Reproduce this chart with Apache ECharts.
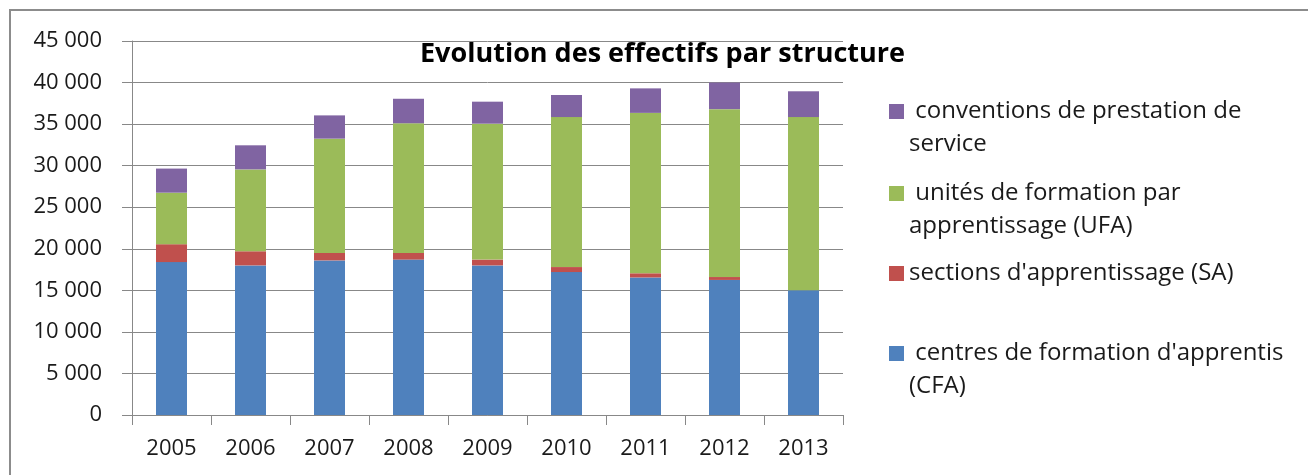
<!DOCTYPE html>
<html>
<head>
<meta charset="utf-8">
<script src="https://cdn.jsdelivr.net/npm/echarts@6/dist/echarts.min.js"></script>
<style>
  html, body { margin: 0; padding: 0; background: #fff; }
  #chart { width: 1308px; height: 475px; }
</style>
</head>
<body>
<div id="chart"></div>
<script>
// années
const years = ['2005', '2006', '2007', '2008', '2009', '2010', '2011', '2012', '2013']

// effectifs par structure
const cfa = [18400, 18000, 18600, 18700, 18000, 17200, 16550, 16250, 15000]
const sa = [2150, 1700, 900, 800, 700, 600, 500, 350, 0]
const ufa = [6200, 9850, 13750, 15600, 16350, 18050, 19300, 20200, 20850]
const cps = [2900, 2900, 2800, 2950, 2650, 2650, 2950, 3200, 3100]

// libellés de la légende, découpés en lignes
const nameCfa = "centres de formation d'apprentis (CFA)"
const nameSa = "sections d'apprentissage (SA)"
const nameUfa = 'unités de formation par apprentissage (UFA)'
const nameCps = 'conventions de prestation de service'
const legendLines = {
  [nameCps]: [' conventions de prestation de', 'service'],
  [nameUfa]: [' unités de formation par', 'apprentissage (UFA)'],
  [nameSa]: ["sections d'apprentissage (SA)"],
  [nameCfa]: [" centres de formation d'apprentis", '(CFA)'],
}

const font = '"Open Sans", Lato, sans-serif'
const axisColor = '#888888'
const textColor = '#1a1a1a'

const fmt = (v) => String(v).replace(/\B(?=(\d{3})+(?!\d))/g, ' ')

const chart = echarts.init(document.getElementById('chart'), null, { renderer: 'canvas' })

// une légende par entrée ; une ligne vide en tête pour caler le carré sur la 1re ligne
const makeLegend = (name, top) => {
  const lines = legendLines[name]
  return {
    data: [{ name, icon: 'rect' }],
    left: 889,
    top,
    padding: 0,
    itemWidth: 15,
    itemHeight: 15,
    selectedMode: false,
    formatter: () => (lines.length > 1 ? [' '].concat(lines).join('\n') : lines[0]),
    textStyle: {
      fontFamily: font,
      fontSize: 24,
      color: textColor,
      lineHeight: 33,
    },
  }
}

const barSeries = (name, data, color) => ({
  name,
  type: 'bar',
  stack: 'total',
  data,
  barWidth: 31,
  itemStyle: { color },
  emphasis: { disabled: true },
})

chart.setOption({
  animation: false,
  title: {
    text: 'Evolution des effectifs par structure',
    left: 415,
    top: 36,
    textStyle: { fontFamily: font, fontSize: 27, fontWeight: 'bold', color: '#000' },
  },
  legend: [
    makeLegend(nameCps, 62),
    makeLegend(nameUfa, 144),
    makeLegend(nameSa, 257),
    makeLegend(nameCfa, 304),
  ],
  grid: { left: 132, right: 465, top: 41, bottom: 60 },
  xAxis: {
    type: 'category',
    data: years,
    axisLine: { lineStyle: { color: axisColor, width: 1 } },
    axisTick: { show: true, length: 10, lineStyle: { color: axisColor } },
    axisLabel: { fontFamily: font, fontSize: 22, color: textColor, margin: 23 },
  },
  yAxis: {
    type: 'value',
    min: 0,
    max: 45000,
    interval: 5000,
    axisLine: { show: true, lineStyle: { color: axisColor, width: 1 } },
    axisTick: { show: true, length: 10, lineStyle: { color: axisColor } },
    splitLine: { lineStyle: { color: axisColor, width: 1 } },
    axisLabel: { fontFamily: font, fontSize: 22, color: textColor, margin: 30, formatter: fmt },
  },
  graphic: [
    {
      type: 'rect',
      shape: { x: 10, y: 10, width: 1400, height: 600 },
      style: { fill: 'none', stroke: '#8c8c8c', lineWidth: 2 },
      silent: true,
    },
  ],
  series: [
    barSeries(nameCfa, cfa, '#4F81BD'),
    barSeries(nameSa, sa, '#C0504D'),
    barSeries(nameUfa, ufa, '#9BBB59'),
    barSeries(nameCps, cps, '#8064A2'),
  ],
})

window.addEventListener('resize', () => chart.resize())
</script>
</body>
</html>
